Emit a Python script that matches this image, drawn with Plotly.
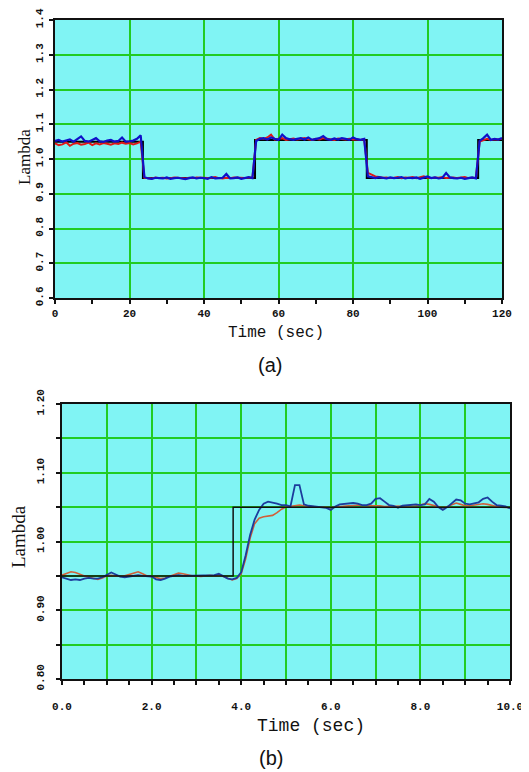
import plotly.graph_objects as go

# ---------------- data: panel (a) ----------------
t_a = list(range(0, 121))  # seconds, 1 s sampling
ref_a_t = [0, 23.6, 23.6, 53.7, 53.7, 83.7, 83.7, 113.6, 113.6, 120]
ref_a_v = [1.05, 1.05, 0.945, 0.945, 1.055, 1.055, 0.945, 0.945, 1.055, 1.055]

blue_a = [
    1.052, 1.055, 1.05, 1.053, 1.056, 1.05, 1.058, 1.065, 1.052, 1.05, 1.055, 1.06,
    1.051, 1.049, 1.053, 1.055, 1.05, 1.052, 1.062, 1.05, 1.051, 1.053, 1.058, 1.068,
    0.948, 0.944, 0.943, 0.946, 0.945, 0.944, 0.947, 0.943, 0.945, 0.946, 0.944, 0.942,
    0.945, 0.947, 0.944, 0.946, 0.945, 0.943, 0.948, 0.944, 0.945, 0.946, 0.957, 0.944,
    0.945, 0.947, 0.943, 0.946, 0.948, 0.945,
    1.052, 1.058, 1.06, 1.056, 1.062, 1.058, 1.055, 1.07, 1.06, 1.057, 1.055, 1.058,
    1.06, 1.056, 1.062, 1.055, 1.058, 1.06, 1.066, 1.057, 1.055, 1.059, 1.056, 1.06,
    1.058, 1.055, 1.062, 1.057, 1.055, 1.058,
    0.95, 0.947, 0.945, 0.948, 0.946, 0.944, 0.947, 0.945, 0.946, 0.948, 0.944, 0.946,
    0.945, 0.947, 0.943, 0.946, 0.95, 0.945, 0.947, 0.944, 0.946, 0.96, 0.947, 0.945,
    0.944, 0.946, 0.943, 0.945, 0.947, 0.944,
    1.052, 1.06, 1.07, 1.055, 1.058, 1.056, 1.06,
]
red_a = [
    1.045, 1.04, 1.042, 1.048, 1.038, 1.044, 1.046, 1.041, 1.043, 1.047, 1.04, 1.045,
    1.042, 1.046, 1.044, 1.041, 1.045, 1.043, 1.047, 1.044, 1.046, 1.042, 1.045, 1.05,
    0.946, 0.945, 0.944, 0.947, 0.945, 0.946, 0.944, 0.945, 0.947, 0.946, 0.945, 0.944,
    0.946, 0.945, 0.947, 0.946, 0.944, 0.945, 0.946, 0.948, 0.945, 0.944, 0.946, 0.945,
    0.947, 0.946, 0.944, 0.945, 0.947, 0.946,
    1.055, 1.06, 1.058, 1.062, 1.07, 1.056, 1.058, 1.06, 1.055, 1.057, 1.059, 1.056,
    1.058, 1.06, 1.057, 1.055, 1.058, 1.056, 1.06, 1.058, 1.057, 1.055, 1.059, 1.057,
    1.056, 1.058, 1.056, 1.057, 1.055, 1.057,
    0.96, 0.955, 0.95, 0.948, 0.946, 0.947, 0.945, 0.946, 0.948, 0.945, 0.947, 0.946,
    0.948, 0.945, 0.947, 0.95, 0.946, 0.945, 0.947, 0.946, 0.948, 0.945, 0.946, 0.947,
    0.945, 0.946, 0.948, 0.945, 0.946, 0.947,
    1.05, 1.055, 1.058, 1.055, 1.057, 1.056, 1.058,
]

# ---------------- data: panel (b) ----------------
t_b = [i / 10 for i in range(0, 101)]  # seconds, 0.1 s sampling
ref_b_t = [0, 3.82, 3.82, 10]
ref_b_v = [0.95, 0.95, 1.05, 1.05]

blue_b = [
    0.948, 0.946, 0.944, 0.945, 0.944, 0.946, 0.947, 0.946, 0.946, 0.948,
    0.951, 0.955, 0.952, 0.949, 0.948, 0.949, 0.950, 0.951, 0.950, 0.950,
    0.949, 0.945, 0.944, 0.946, 0.949, 0.950, 0.951, 0.950, 0.950, 0.951,
    0.950, 0.950, 0.951, 0.950, 0.951, 0.953, 0.950, 0.946, 0.945, 0.947,
    0.955, 0.980, 1.010, 1.032, 1.046, 1.055, 1.058, 1.057, 1.055, 1.053,
    1.053, 1.051, 1.082, 1.082, 1.054, 1.052, 1.051, 1.051, 1.050, 1.049,
    1.046, 1.051, 1.054, 1.055, 1.055, 1.056, 1.055, 1.053, 1.053, 1.055,
    1.062, 1.063, 1.058, 1.053, 1.052, 1.049, 1.052, 1.053, 1.053, 1.054,
    1.053, 1.054, 1.062, 1.058, 1.050, 1.046, 1.050, 1.056, 1.061, 1.060,
    1.055, 1.054, 1.055, 1.057, 1.062, 1.064, 1.058, 1.053, 1.052, 1.051,
    1.048,
]
red_b = [
    0.951, 0.953, 0.956, 0.955, 0.952, 0.950, 0.948, 0.946, 0.945, 0.947,
    0.950, 0.951, 0.950, 0.949, 0.950, 0.952, 0.955, 0.956, 0.953, 0.950,
    0.949, 0.947, 0.946, 0.947, 0.949, 0.952, 0.954, 0.953, 0.951, 0.950,
    0.950, 0.949, 0.950, 0.951, 0.950, 0.951, 0.949, 0.946, 0.944, 0.946,
    0.953, 0.975, 1.005, 1.026, 1.034, 1.036, 1.037, 1.038, 1.042, 1.047,
    1.050, 1.051, 1.052, 1.053, 1.052, 1.051, 1.051, 1.050, 1.050, 1.049,
    1.049, 1.050, 1.051, 1.051, 1.052, 1.052, 1.053, 1.052, 1.052, 1.053,
    1.053, 1.052, 1.051, 1.051, 1.052, 1.052, 1.052, 1.051, 1.052, 1.052,
    1.053, 1.055, 1.054, 1.052, 1.050, 1.049, 1.051, 1.054, 1.056, 1.054,
    1.052, 1.052, 1.053, 1.054, 1.055, 1.054, 1.052, 1.051, 1.050, 1.050,
    1.049,
]

ya_ticks = [0.6, 0.7, 0.8, 0.9, 1.0, 1.1, 1.2, 1.3, 1.4]
ya_text = ["0.6", "0.7", "0.8", "0.9", "1.0", "1.1", "1.2", "1.3", "1.4"]
xa_ticks = [0, 20, 40, 60, 80, 100, 120]
xa_text = ["0", "20", "40", "60", "80", "100", "120"]

yb_ticks = [0.80, 0.85, 0.90, 0.95, 1.00, 1.05, 1.10, 1.15, 1.20]
yb_text = ["0.80", "", "0.90", "", "1.00", "", "1.10", "", "1.20"]
xb_ticks = [0, 1, 2, 3, 4, 5, 6, 7, 8, 9, 10]
xb_text = ["0.0", "", "2.0", "", "4.0", "", "6.0", "", "8.0", "", "10.0"]

# ---------------- figure ----------------
# the page body has an 8 px default margin, so the figure is offset by 8 px
OFF = 8
W, H = 529 - OFF, 772 - OFF
BG = "#80F4F4"
GRID = "#22CC22"
TICKFONT = dict(family="Liberation Mono", size=11, color="#111111", weight="bold")


def px(x):
    return (x - OFF) / W


def py(y):
    return 1 - (y - OFF) / H


fig = go.Figure()

# panel (a)
fig.add_trace(go.Scatter(x=ref_a_t, y=ref_a_v, mode="lines", line=dict(color="#000000", width=2),
                         xaxis="x", yaxis="y", showlegend=False, hoverinfo="skip"))
fig.add_trace(go.Scatter(x=t_a, y=red_a, mode="lines", line=dict(color="#E01818", width=2),
                         xaxis="x", yaxis="y", showlegend=False))
fig.add_trace(go.Scatter(x=t_a, y=blue_a, mode="lines", line=dict(color="#1010C8", width=2.2),
                         xaxis="x", yaxis="y", showlegend=False))

# panel (b)
fig.add_trace(go.Scatter(x=t_b, y=red_b, mode="lines", line=dict(color="#D0603A", width=1.6),
                         xaxis="x2", yaxis="y2", showlegend=False))
fig.add_trace(go.Scatter(x=t_b, y=blue_b, mode="lines", line=dict(color="#1C3C9C", width=1.8),
                         xaxis="x2", yaxis="y2", showlegend=False))
fig.add_trace(go.Scatter(x=ref_b_t, y=ref_b_v, mode="lines", line=dict(color="#111111", width=1.5),
                         xaxis="x2", yaxis="y2", showlegend=False, hoverinfo="skip"))

axis_common = dict(showline=True, linecolor="#111111", linewidth=2, mirror=True,
                   showgrid=True, gridcolor=GRID, gridwidth=1.6, zeroline=False,
                   ticks="outside", ticklen=4, tickcolor="#111111", tickwidth=1.5,
                   tickfont=TICKFONT, automargin=False)

fig.update_layout(
    width=W, height=H, autosize=False,
    margin=dict(l=0, r=0, t=0, b=0, autoexpand=False),
    paper_bgcolor="white", plot_bgcolor=BG,
    xaxis=dict(domain=[px(55), px(502)], anchor="y", range=[0, 120],
               tickmode="array", tickvals=xa_ticks, ticktext=xa_text,
               minor=dict(dtick=10, tick0=0, ticks="outside", ticklen=4,
                          tickcolor="#111111", showgrid=False),
               ticklabelstandoff=0, **axis_common),
    yaxis=dict(domain=[py(298), py(20)], anchor="x", range=[0.6, 1.4],
               tickmode="array", tickvals=ya_ticks, ticktext=ya_text,
               tickangle=-90, ticklabelstandoff=2, **axis_common),
    xaxis2=dict(domain=[px(62), px(510)], anchor="y2", range=[0, 10],
                tickmode="array", tickvals=xb_ticks, ticktext=xb_text,
                minor=dict(dtick=0.5, tick0=0, ticks="outside", ticklen=4,
                           tickcolor="#111111", showgrid=False),
                ticklabelstandoff=12, **axis_common),
    yaxis2=dict(domain=[py(679), py(404)], anchor="x2", range=[0.8, 1.2],
                tickmode="array", tickvals=yb_ticks, ticktext=yb_text,
                tickangle=-90, ticklabelstandoff=8, **axis_common),
)

ann = [
    dict(text="Lambda", x=px(25), y=py(157), textangle=-90,
         font=dict(family="Liberation Serif", size=17, color="#111111")),
    dict(text="Time (sec)", x=px(276), y=py(333),
         font=dict(family="Liberation Mono", size=16, color="#111111")),
    dict(text="(a)", x=px(270), y=py(365),
         font=dict(family="Liberation Sans", size=20, color="#111111")),
    dict(text="Lambda", x=px(18), y=py(537), textangle=-90,
         font=dict(family="Liberation Serif", size=19, color="#111111")),
    dict(text="Time (sec)", x=px(311), y=py(726),
         font=dict(family="Liberation Mono", size=18, color="#111111")),
    dict(text="(b)", x=px(271), y=py(758),
         font=dict(family="Liberation Sans", size=20, color="#111111")),
]
for a in ann:
    fig.add_annotation(xref="paper", yref="paper", xanchor="center", yanchor="middle",
                       showarrow=False, **a)

fig.write_html("out.html")
